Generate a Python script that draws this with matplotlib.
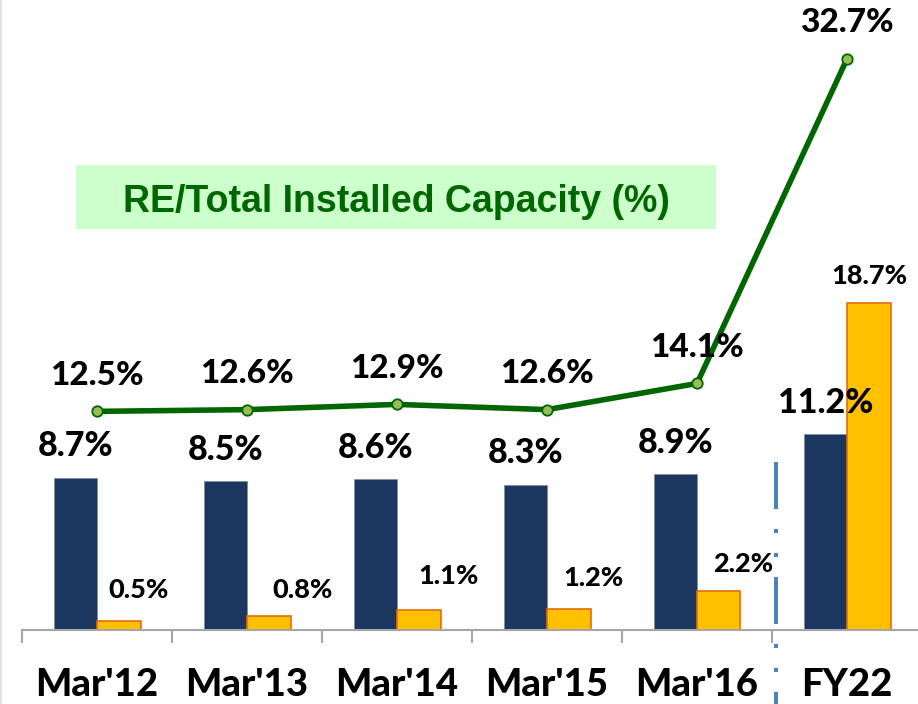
import matplotlib
matplotlib.use("Agg")
import matplotlib.pyplot as plt
from matplotlib.patches import Rectangle
from matplotlib.lines import Line2D
import numpy as np

plt.rcParams['lines.scale_dashes'] = False

# ---- data ----
categories = ["Mar'12", "Mar'13", "Mar'14", "Mar'15", "Mar'16", "FY22"]
navy_values = [8.7, 8.5, 8.6, 8.3, 8.9, 11.2]
orange_values = [0.5, 0.8, 1.1, 1.2, 2.2, 18.7]
re_share = [12.5, 12.6, 12.9, 12.6, 14.1, 32.7]
box_title = "RE/Total Installed Capacity (%)"

# ---- style ----
NAVY = "#1B375F"
ORANGE = "#FFC000"
ORANGE_EDGE = "#E46C0A"
GREEN = "#006600"
MARKER_FILL = "#9BBB59"
W, H = 918, 704
DPI = 100
PX = 72.0 / DPI  # points per pixel
FW = "black"

fig = plt.figure(figsize=(W / DPI, H / DPI), dpi=DPI)
fig.patch.set_facecolor("white")

ax_left, ax_right = 22 / W, 922 / W
ax_bottom = (H - 629.5) / H
ax = fig.add_axes([ax_left, ax_bottom, ax_right - ax_left, 1 - ax_bottom])
ax.set_xlim(-0.5, 5.5)
ax.set_ylim(0, 629.5 / 17.45)

x = np.arange(len(categories))
bw = 0.29
ax.bar(x - bw / 2, navy_values, bw, color=NAVY, edgecolor="#7f8fa6", linewidth=0.6, zorder=2)
ax.bar(x + bw / 2, orange_values, bw, color=ORANGE, edgecolor=ORANGE_EDGE, linewidth=1.2, zorder=2)
ax.plot(x, re_share, color=GREEN, linewidth=4.0, marker="o", markersize=7.5,
        markerfacecolor=MARKER_FILL, markeredgecolor=GREEN, markeredgewidth=1.3,
        zorder=4, solid_capstyle="round")

label_font = dict(family="Lato", weight=FW, color="black")

for xi, v in zip(x, navy_values):
    ax.annotate(f"{v}%", (xi - bw / 2, v), xytext=(0, 21.5 * PX), textcoords="offset points",
                ha="center", va="baseline", fontsize=24.5, zorder=5, **label_font)

for xi, v in zip(x, re_share):
    ax.annotate(f"{v}%", (xi, v), xytext=(0, 26.5 * PX), textcoords="offset points",
                ha="center", va="baseline", fontsize=24, zorder=5, **label_font)

orange_dx = [20, 34, 30, 25, 24, 1]
orange_dy = [23, 18, 26, 23, 19, 19]
for xi, v, dx, dy in zip(x, orange_values, orange_dx, orange_dy):
    ax.annotate(f"{v}%", (xi + bw / 2, v), xytext=(dx * PX, dy * PX), textcoords="offset points",
                ha="center", va="baseline", fontsize=19.5, zorder=5, **label_font)

# axes styling
for s in ["left", "right", "top"]:
    ax.spines[s].set_visible(False)
ax.spines["bottom"].set_color("#A6A6A6")
ax.spines["bottom"].set_linewidth(1.5)
ax.set_yticks([])
ax.set_xticks(x)
ax.set_xticklabels(categories, fontsize=27.5, fontfamily="Lato", fontweight=FW)
ax.tick_params(axis="x", which="major", length=0, pad=39 * PX)
ax.set_xticks(np.arange(-0.5, 6.0, 1.0), minor=True)
ax.tick_params(axis="x", which="minor", length=13 * PX, width=1.5, color="#A6A6A6")

# separator line (dash-dot)
sep_x = 4.527
y_top = (629.5 - 462) / 17.45
y_bot = (629.5 - 710) / 17.45
sep = Line2D([sep_x, sep_x], [y_top, y_bot], color="#4F81BD", linewidth=4 * PX,
             dashes=(47 * PX, 20 * PX, 4 * PX, 20 * PX, 4 * PX, 20 * PX),
             solid_capstyle="butt", dash_capstyle="butt", clip_on=False, zorder=3)
ax.add_line(sep)

# title box
fig.patches.append(Rectangle((76 / W, 1 - 229 / H), (716 - 76) / W, (229 - 165) / H,
                             transform=fig.transFigure, facecolor="#CCFFCC",
                             edgecolor="none", zorder=1))
fig.text(396 / W, 1 - 212 / H, box_title, ha="center", va="baseline",
         fontsize=27, fontfamily="Liberation Sans", fontweight="bold", color=GREEN, zorder=2)

# left border
fig.add_artist(Line2D([0.8 / W, 0.8 / W], [0, 1], transform=fig.transFigure,
                      color="#E3E3E3", linewidth=1.5))

fig.savefig("out.png", dpi=DPI)
